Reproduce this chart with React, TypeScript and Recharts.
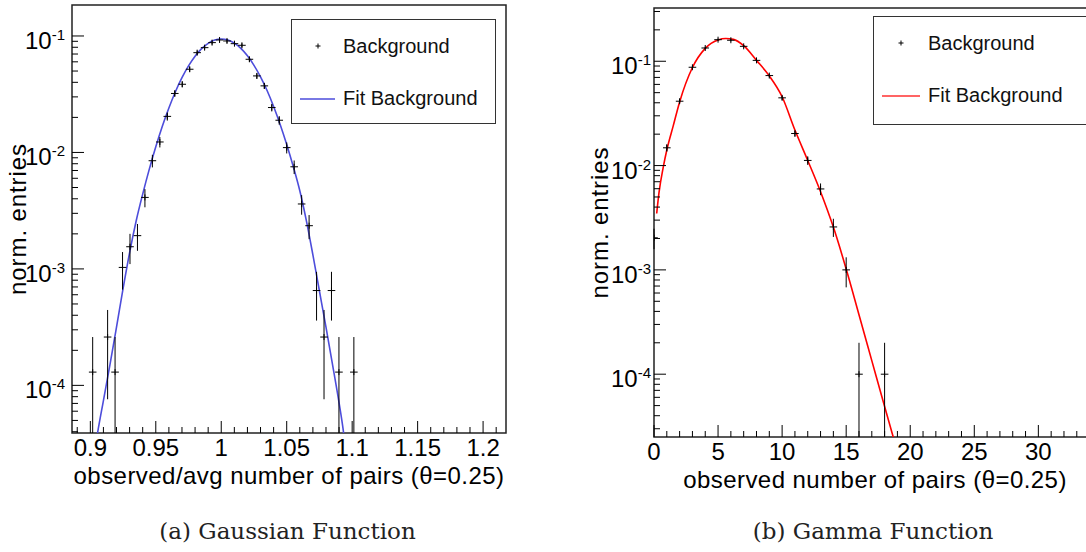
import React from "react";
import {
  ComposedChart,
  XAxis,
  YAxis,
  Line,
  Scatter,
  ErrorBar,
  ReferenceArea,
  Label,
  Legend,
} from "recharts";

// (a) observed/avg number of pairs, normalised histogram + gaussian fit
const gaussBinX = [0.9018, 0.9132, 0.9189, 0.9246, 0.9303, 0.936, 0.9417, 0.9474, 0.9531, 0.9588, 0.9645, 0.9702, 0.9759, 0.9816, 0.9873, 0.993, 0.9987, 1.0044, 1.0101, 1.0158, 1.0215, 1.0272, 1.0329, 1.0386, 1.0443, 1.05, 1.0557, 1.0614, 1.0671, 1.0728, 1.0785, 1.0842, 1.0899, 1.1013];
const gaussBinY = [1.3e-4, 2.6e-4, 1.3e-4, 1.03e-3, 1.55e-3, 1.93e-3, 4.11e-3, 8.49e-3, 1.23e-2, 2.04e-2, 3.21e-2, 3.85e-2, 5.18e-2, 7.19e-2, 7.94e-2, 8.77e-2, 9.24e-2, 9.06e-2, 8.59e-2, 8.32e-2, 6.31e-2, 4.54e-2, 3.73e-2, 2.43e-2, 1.89e-2, 1.1e-2, 7.53e-3, 3.61e-3, 2.35e-3, 6.52e-4, 2.6e-4, 6.52e-4, 1.3e-4, 1.3e-4];
const gaussErrLo = [9.1e-5, 1.84e-4, 9.1e-5, 3.66e-4, 4.5e-4, 5.0e-4, 7.3e-4, 1.05e-3, 1.26e-3, 1.63e-3, 2.0e-3, 2.2e-3, 2.5e-3, 3.0e-3, 3.1e-3, 3.3e-3, 3.4e-3, 3.4e-3, 3.3e-3, 3.3e-3, 2.9e-3, 2.4e-3, 2.2e-3, 1.8e-3, 1.6e-3, 1.2e-3, 1.0e-3, 6.9e-4, 5.5e-4, 2.92e-4, 1.84e-4, 2.92e-4, 9.1e-5, 9.1e-5];
const gaussErrHi = [1.3e-4, 1.84e-4, 1.3e-4, 3.66e-4, 4.5e-4, 5.0e-4, 7.3e-4, 1.05e-3, 1.26e-3, 1.63e-3, 2.0e-3, 2.2e-3, 2.5e-3, 3.0e-3, 3.1e-3, 3.3e-3, 3.4e-3, 3.4e-3, 3.3e-3, 3.3e-3, 2.9e-3, 2.4e-3, 2.2e-3, 1.8e-3, 1.6e-3, 1.2e-3, 1.0e-3, 6.9e-4, 5.5e-4, 2.92e-4, 1.84e-4, 2.92e-4, 1.3e-4, 1.3e-4];

const gaussFitX = [0.903, 0.9055, 0.91, 0.915, 0.92, 0.925, 0.93, 0.935, 0.94, 0.945, 0.95, 0.955, 0.96, 0.965, 0.97, 0.975, 0.98, 0.985, 0.99, 0.995, 1.0, 1.005, 1.01, 1.015, 1.02, 1.025, 1.03, 1.035, 1.04, 1.045, 1.05, 1.055, 1.06, 1.065, 1.07, 1.075, 1.08, 1.085, 1.09, 1.093, 1.0955];
const gaussFitY = [2.63e-5, 3.89e-5, 7.41e-5, 1.51e-4, 3.16e-4, 6.76e-4, 1.38e-3, 2.58e-3, 4.39e-3, 7.16e-3, 1.12e-2, 1.68e-2, 2.41e-2, 3.32e-2, 4.38e-2, 5.53e-2, 6.7e-2, 7.78e-2, 8.65e-2, 9.23e-2, 9.42e-2, 9.23e-2, 8.67e-2, 7.82e-2, 6.75e-2, 5.6e-2, 4.45e-2, 3.4e-2, 2.48e-2, 1.74e-2, 1.17e-2, 7.57e-3, 4.69e-3, 2.6e-3, 1.32e-3, 6.46e-4, 3.16e-4, 1.51e-4, 7.08e-5, 4.27e-5, 2.5e-5];

const gaussXTicks = [0.89, 0.9, 0.91, 0.92, 0.93, 0.94, 0.95, 0.96, 0.97, 0.98, 0.99, 1.0, 1.01, 1.02, 1.03, 1.04, 1.05, 1.06, 1.07, 1.08, 1.09, 1.1, 1.11, 1.12, 1.13, 1.14, 1.15, 1.16, 1.17, 1.18, 1.19, 1.2, 1.21];
const gaussXMajor = [0.9, 0.95, 1.0, 1.05, 1.1, 1.15, 1.2];
const gaussXLabels = ["0.9", "0.95", "1", "1.05", "1.1", "1.15", "1.2"];

// (b) observed number of pairs, normalised histogram + gamma fit
const gammaBinX = [0, 1, 2, 3, 4, 5, 6, 7, 8, 9, 10, 11, 12, 13, 14, 15, 16, 18];
const gammaBinY = [2.03e-3, 1.48e-2, 4.14e-2, 8.76e-2, 0.134, 0.161, 0.159, 0.139, 0.102, 0.0729, 0.0446, 0.0203, 0.0112, 5.97e-3, 2.58e-3, 1.0e-3, 1.0e-4, 1.0e-4];
const gammaErrLo = [4.5e-4, 1.2e-3, 2.0e-3, 3.0e-3, 3.7e-3, 4.0e-3, 4.0e-3, 3.7e-3, 3.2e-3, 2.7e-3, 2.1e-3, 1.4e-3, 1.06e-3, 7.7e-4, 5.1e-4, 3.2e-4, 7.5e-5, 7.5e-5];
const gammaErrHi = [4.5e-4, 1.2e-3, 2.0e-3, 3.0e-3, 3.7e-3, 4.0e-3, 4.0e-3, 3.7e-3, 3.2e-3, 2.7e-3, 2.1e-3, 1.4e-3, 1.06e-3, 7.7e-4, 5.1e-4, 3.2e-4, 1.0e-4, 1.0e-4];

const gammaFitX = [0.21, 0.39, 0.73, 1, 1.5, 2, 3, 4, 5, 5.6, 6.2, 7, 8, 9, 10, 11, 12, 13, 14, 15, 16, 17, 18, 18.6, 18.9];
const gammaFitY = [3.47e-3, 5.5e-3, 9.77e-3, 1.41e-2, 2.4e-2, 4.07e-2, 8.71e-2, 0.133, 0.16, 0.165, 0.162, 0.141, 0.102, 0.0724, 0.0457, 0.0219, 0.0112, 5.62e-3, 2.57e-3, 1.02e-3, 3.72e-4, 1.35e-4, 4.9e-5, 2.69e-5, 2.0e-5];

const gammaXTicks = [0, 1, 2, 3, 4, 5, 6, 7, 8, 9, 10, 11, 12, 13, 14, 15, 16, 17, 18, 19, 20, 21, 22, 23, 24, 25, 26, 27, 28, 29, 30, 31, 32, 33, 34];
const gammaXMajor = [0, 5, 10, 15, 20, 25, 30];
const gammaXLabels = ["0", "5", "10", "15", "20", "25", "30"];

const SANS = "'Liberation Sans', Arial, Helvetica, sans-serif";

const toPoints = (xs: number[], ys: number[], lo: number[], hi: number[]) =>
  xs.map((x, i) => ({ x, y: ys[i], err: [lo[i], hi[i]] }));
const toCurve = (xs: number[], ys: number[]) => xs.map((x, i) => ({ x, y: ys[i] }));

// minor ticks at 1..9 x 10^n inside the range
const logTicks = (min: number, max: number) => {
  const out: number[] = [];
  for (let e = -6; e <= 0; e++) {
    for (let m = 1; m <= 9; m++) {
      const v = m * Math.pow(10, e);
      if (v >= min && v <= max) out.push(v);
    }
  }
  return out;
};

const PlusMarker = (props: any) => {
  const { cx, cy } = props;
  if (cx == null || cy == null) return null;
  return (
    <g stroke="#000" strokeWidth={1}>
      <line x1={cx - 3.8} x2={cx + 3.8} y1={cy} y2={cy} />
      <line x1={cx} x2={cx} y1={cy - 3} y2={cy + 3} />
    </g>
  );
};

const makeXTick = (major: number[], labels: string[]) => (props: any) => {
  const { x, y, payload } = props;
  const idx = major.findIndex((m) => Math.abs(m - payload.value) < 1e-9);
  const len = idx >= 0 ? 12 : 6;
  return (
    <g>
      <line x1={x} x2={x} y1={y} y2={y - len} stroke="#000" strokeWidth={1} />
      {idx >= 0 && (
        <text x={x} y={y + 23} textAnchor="middle" fontFamily={SANS} fontSize={24} fill="#000">
          {labels[idx]}
        </text>
      )}
    </g>
  );
};

const makeYTick = (gap: number) => (props: any) => {
  const { x, y, payload } = props;
  const v = payload.value;
  const exp = Math.round(Math.log10(v));
  const isMajor = Math.abs(v - Math.pow(10, exp)) < v * 1e-6;
  return (
    <g>
      <line x1={x} x2={x + (isMajor ? 12 : 6)} y1={y} y2={y} stroke="#000" strokeWidth={1} />
      {isMajor && (
        <text x={x - gap} y={y} textAnchor="end" fontFamily={SANS} fill="#000">
          <tspan fontSize={24} dy={13}>10</tspan>
          <tspan fontSize={15} dy={-9}>{`${exp}`}</tspan>
        </text>
      )}
    </g>
  );
};

const LegendBox = ({ lineColor, textX, markerX, lineX1, lineX2 }: any) => (
  <div style={{ width: "100%", height: "100%", border: "1px solid #333", background: "#fff", boxSizing: "border-box" }}>
    <svg width="100%" height="100%" style={{ display: "block" }}>
      <g stroke="#000" strokeWidth={1}>
        <line x1={markerX - 2.5} x2={markerX + 2.5} y1={26} y2={26} />
        <line x1={markerX} x2={markerX} y1={23.5} y2={28.5} />
      </g>
      <text x={textX} y={33} fontFamily={SANS} fontSize={20} fill="#111">Background</text>
      <line x1={lineX1} x2={lineX2} y1={79} y2={79} stroke={lineColor} strokeWidth={1.6} />
      <text x={textX} y={85} fontFamily={SANS} fontSize={20} fill="#111">Fit Background</text>
    </svg>
  </div>
);

const xTitle = (text: string, dy: number) => (props: any) => {
  const { x, y, width } = props.viewBox;
  return (
    <text x={x + width / 2} y={y + dy} textAnchor="middle" fontFamily={SANS} fontSize={24} letterSpacing={0.45} fill="#000">
      {text}
    </text>
  );
};

const yTitle = (bx: number) => (props: any) => {
  const { y, height } = props.viewBox;
  const cy = y + height / 2;
  return (
    <text x={bx} y={cy} transform={`rotate(-90 ${bx} ${cy})`} textAnchor="middle" fontFamily={SANS} fontSize={24} letterSpacing={0.9} fill="#000">
      norm. entries
    </text>
  );
};

const GaussPanel = () => {
  const xMin = 0.886;
  const xMax = 1.2175;
  const yMin = 3.9e-5;
  const yMax = 0.1845;
  return (
    <ComposedChart width={520} height={552} margin={{ top: 5, right: 14, bottom: 0, left: 0 }}>
      <XAxis
        type="number"
        dataKey="x"
        domain={[xMin, xMax]}
        allowDataOverflow
        ticks={gaussXTicks}
        interval={0}
        tickSize={0}
        tickMargin={0}
        axisLine={false}
        tickLine={false}
        tick={makeXTick(gaussXMajor, gaussXLabels)}
        height={119}
      >
        <Label content={xTitle("observed/avg number of pairs (\u03b8=0.25)", 51)} />
      </XAxis>
      <YAxis
        type="number"
        dataKey="y"
        scale="log"
        domain={[yMin, yMax]}
        allowDataOverflow
        ticks={logTicks(yMin, yMax)}
        interval={0}
        tickSize={0}
        tickMargin={0}
        axisLine={false}
        tickLine={false}
        tick={makeYTick(7)}
        width={72}
      >
        <Label content={yTitle(25.5)} />
      </YAxis>
      <ReferenceArea x1={xMin} x2={xMax} y1={yMin} y2={yMax} fill="none" stroke="#222" strokeWidth={1.5} ifOverflow="visible" />
      <Line
        data={toCurve(gaussFitX, gaussFitY)}
        dataKey="y"
        type="monotone"
        stroke="#4d4ddb"
        strokeWidth={1.6}
        dot={false}
        isAnimationActive={false}
      />
      <Scatter
        data={toPoints(gaussBinX, gaussBinY, gaussErrLo, gaussErrHi)}
        dataKey="y"
        shape={PlusMarker}
        isAnimationActive={false}
      >
        <ErrorBar dataKey="err" direction="y" width={0} stroke="#000" strokeWidth={1} isAnimationActive={false} />
      </Scatter>
      <Legend
        layout="vertical"
        align="center"
        verticalAlign="middle"
        wrapperStyle={{ left: 291, top: 19, width: 205, height: 105 }}
        content={() => <LegendBox lineColor="#4d4ddb" textX={51} markerX={26} lineX1={8} lineX2={43} />}
      />
    </ComposedChart>
  );
};

const GammaPanel = () => {
  const xMin = 0;
  const xMax = 34.5;
  const yMin = 2.5e-5;
  const yMax = 0.324;
  return (
    <ComposedChart width={546} height={552} margin={{ top: 8, right: 10, bottom: 0, left: 0 }}>
      <XAxis
        type="number"
        dataKey="x"
        domain={[xMin, xMax]}
        allowDataOverflow
        ticks={gammaXTicks}
        interval={0}
        tickSize={0}
        tickMargin={0}
        axisLine={false}
        tickLine={false}
        tick={makeXTick(gammaXMajor, gammaXLabels)}
        height={115}
      >
        <Label content={xTitle("observed number of pairs (\u03b8=0.25)", 51)} />
      </XAxis>
      <YAxis
        type="number"
        dataKey="y"
        scale="log"
        domain={[yMin, yMax]}
        allowDataOverflow
        ticks={logTicks(yMin, yMax)}
        interval={0}
        tickSize={0}
        tickMargin={0}
        axisLine={false}
        tickLine={false}
        tick={makeYTick(3)}
        width={94}
      >
        <Label content={yTitle(48)} />
      </YAxis>
      <ReferenceArea x1={xMin} x2={xMax} y1={yMin} y2={yMax} fill="none" stroke="#222" strokeWidth={1.5} ifOverflow="visible" />
      <Line
        data={toCurve(gammaFitX, gammaFitY)}
        dataKey="y"
        type="monotone"
        stroke="#ff0000"
        strokeWidth={1.6}
        dot={false}
        isAnimationActive={false}
      />
      <Scatter
        data={toPoints(gammaBinX, gammaBinY, gammaErrLo, gammaErrHi)}
        dataKey="y"
        shape={PlusMarker}
        isAnimationActive={false}
      >
        <ErrorBar dataKey="err" direction="y" width={0} stroke="#000" strokeWidth={1} isAnimationActive={false} />
      </Scatter>
      <Legend
        layout="vertical"
        align="center"
        verticalAlign="middle"
        wrapperStyle={{ left: 313, top: 16, width: 240, height: 109 }}
        content={() => <LegendBox lineColor="#ff3030" textX={54} markerX={27} lineX1={8} lineX2={46} />}
      />
    </ComposedChart>
  );
};

export default function App() {
  return (
    <div
      style={{
        position: "fixed",
        left: 0,
        top: 0,
        width: 1086,
        height: 552,
        overflow: "hidden",
        background: "#fff",
      }}
    >
      <div style={{ position: "absolute", left: 0, top: 0 }}>
        <GaussPanel />
      </div>
      <div style={{ position: "absolute", left: 560, top: 0 }}>
        <GammaPanel />
      </div>
      {/* sub-figure captions */}
      <svg width={1086} height={552} style={{ position: "absolute", left: 0, top: 0, pointerEvents: "none" }}>
        <text x={287.5} y={539} textAnchor="middle" fontFamily="'DejaVu Serif', serif" fontSize={23} fill="#222">
          (a) Gaussian Function
        </text>
        <text x={873} y={539} textAnchor="middle" fontFamily="'DejaVu Serif', serif" fontSize={23} fill="#222">
          (b) Gamma Function
        </text>
      </svg>
    </div>
  );
}
